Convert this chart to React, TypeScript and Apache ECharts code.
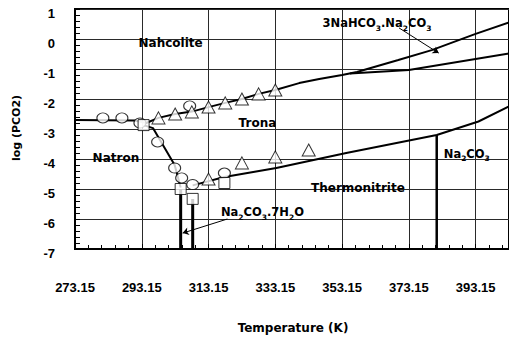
import { useEffect, useRef } from 'react';
import * as echarts from 'echarts';

// Temperatures are kept in kelvin; the x axis runs in kelvin above T0.
const T0 = 273.15;

const xTickLabels = ['273.15', '293.15', '313.15', '333.15', '353.15', '373.15', '393.15'];
const yTickLabels = ['-7', '-6', '-5', '-4', '-3', '-2', '-1', '0', '1'];

// Phase boundaries: [T (K), log PCO2]
const nahcoliteTrona = [
  [273.15, -2.7], [291.0, -2.72], [294.5, -2.8], [298.15, -2.63], [303.15, -2.5],
  [308.15, -2.42], [313.15, -2.27], [318.15, -2.13], [323.15, -2.0], [328.15, -1.83],
  [333.15, -1.7], [340.3, -1.47], [346.3, -1.33], [353.15, -1.2], [357.6, -1.1],
  [370.0, -0.7], [380.0, -0.37], [393.15, 0.17], [403.15, 0.55],
];
const wegscheideriteTrona = [[355.5, -1.15], [373.15, -1.03], [403.15, -0.48]];
const natronTrona = [[293.7, -2.87], [296.5, -2.97], [303.0, -4.2], [304.8, -4.95]];
const tronaThermonitrite = [
  [308.4, -4.88], [317.9, -4.6], [333.45, -4.3], [354.4, -3.8], [381.5, -3.2],
  [394.0, -2.75], [403.15, -2.25],
];
const natronHeptahydrate = [[304.8, -5.0], [304.8, -7]];
const heptahydrateThermonitrite = [[308.4, -5.33], [308.4, -7]];
const thermonitriteCarbonate = [[381.5, -3.2], [381.5, -7]];

// Measured points
const circlePoints = [
  [281.5, -2.63], [287.2, -2.63], [292.6, -2.8], [297.9, -3.43], [303.0, -4.3],
  [305.1, -4.63], [307.5, -2.23], [308.4, -4.85], [317.9, -4.47],
];
const trianglePoints = [
  [298.15, -2.63], [303.15, -2.5], [308.15, -2.43], [313.15, -2.27], [318.15, -2.13],
  [323.15, -2.0], [328.15, -1.83], [333.15, -1.7],
  [313.15, -4.67], [323.15, -4.13], [333.15, -3.93], [343.15, -3.7],
];
const squarePoints = [[293.7, -2.87], [304.8, -5.0], [308.4, -5.33], [317.9, -4.8]];

// Region labels: [T, log PCO2, rich text]
const regionLabels: [number, number, string][] = [
  [301.8, -0.13, '{n|Nahcolite}'],
  [327.8, -2.8, '{n|Trona}'],
  [285.4, -3.97, '{n|Natron}'],
  [357.9, -4.97, '{n|Thermonitrite}'],
  [390.5, -3.83, '{f|Na}{s|2}{f|CO}{s|3}'],
  [329.3, -5.77, '{f|Na}{s|2}{f|CO}{s|3}{f|.7H}{s|2}{f|O}'],
  [363.6, 0.53, '{f|3NaHCO}{s|3}{f|.Na}{s|2}{f|CO}{s|3}'],
];

// Leader arrows: from label to region
const arrows = [
  [[370.2, 0.37], [382.1, -0.47]],
  [[318.8, -6.0], [305.4, -6.47]],
];

const toXY = (pts: number[][]) => pts.map(([t, v]) => [t - T0, v]);

const boundary = (data: number[][], width: number) => ({
  type: 'line',
  data: toXY(data),
  symbol: 'none',
  showSymbol: false,
  silent: true,
  lineStyle: { color: '#000', width },
  z: 3,
});

const markers = (data: number[][], symbol: string, size: number[]) => ({
  type: 'scatter',
  data: toXY(data),
  symbol,
  symbolSize: size,
  silent: true,
  itemStyle: { color: '#fff', borderColor: '#000', borderWidth: 1 },
  z: 5,
});

const BOLD_SANS = 'DejaVu Sans';
const TICK_FONT = 'Liberation Sans';

export default function App() {
  const ref = useRef<HTMLDivElement>(null);

  useEffect(() => {
    if (!ref.current) return;
    const chart = echarts.init(ref.current, undefined, { renderer: 'svg' });

    chart.setOption({
      animation: false,
      backgroundColor: '#fff',
      grid: {
        left: 75,
        top: 9,
        width: 435.5,
        height: 240,
        show: true,
        borderColor: '#000',
        borderWidth: 2,
      },
      xAxis: {
        type: 'value',
        min: 0,
        max: 130,
        interval: 20,
        axisLine: { show: true, onZero: false, lineStyle: { color: '#000', width: 2 } },
        axisTick: { show: true, inside: true, length: 5, lineStyle: { color: '#000' } },
        minorTick: { show: true, splitNumber: 5, length: 4, lineStyle: { color: '#000' } },
        splitLine: { show: true, lineStyle: { color: '#2a2a2a', width: 1 } },
        axisLabel: {
          margin: 32,
          color: '#000',
          fontFamily: TICK_FONT,
          fontWeight: 'bold',
          fontSize: 13,
          showMaxLabel: false,
          formatter: (_v: number, i: number) => xTickLabels[i] ?? '',
        },
      },
      yAxis: {
        type: 'value',
        min: -7,
        max: 1,
        interval: 1,
        axisLine: { show: true, onZero: false, lineStyle: { color: '#000', width: 2 } },
        axisTick: { show: true, inside: true, length: 5, lineStyle: { color: '#000' } },
        minorTick: { show: true, splitNumber: 5, length: 5, lineStyle: { color: '#000' } },
        splitLine: { show: true, lineStyle: { color: '#2a2a2a', width: 1 } },
        axisLabel: {
          margin: 20,
          verticalAlign: 'top',
          lineHeight: 8,
          color: '#000',
          fontFamily: TICK_FONT,
          fontWeight: 'bold',
          fontSize: 13,
          formatter: (_v: number, i: number) => yTickLabels[i] ?? '',
        },
      },
      series: [
        boundary(nahcoliteTrona, 2),
        boundary(wegscheideriteTrona, 2),
        boundary(natronTrona, 2),
        boundary(tronaThermonitrite, 2),
        boundary(natronHeptahydrate, 3),
        boundary(heptahydrateThermonitrite, 3),
        boundary(thermonitriteCarbonate, 2.5),
        {
          type: 'lines',
          coordinateSystem: 'cartesian2d',
          polyline: false,
          silent: true,
          symbol: ['none', 'arrow'],
          symbolSize: 6,
          lineStyle: { color: '#000', width: 1, opacity: 1 },
          data: arrows.map((a) => ({ coords: toXY(a) })),
          z: 4,
        },
        markers(circlePoints, 'circle', [12, 10]),
        markers(trianglePoints, 'triangle', [13, 12]),
        markers(squarePoints, 'rect', [11, 11]),
      ],
    });

    const rich = {
      n: { fontFamily: BOLD_SANS, fontWeight: 'bold', fontSize: 12, lineHeight: 16, fill: '#000' },
      f: { fontFamily: BOLD_SANS, fontWeight: 'bold', fontSize: 11.5, lineHeight: 18, fill: '#000' },
      s: {
        fontFamily: BOLD_SANS,
        fontWeight: 'bold',
        fontSize: 7.5,
        lineHeight: 9,
        verticalAlign: 'bottom',
        fill: '#000',
      },
    };

    const labelElements = regionLabels.map(([t, v, text]) => {
      const [x, y] = chart.convertToPixel({ gridIndex: 0 }, [t - T0, v]) as number[];
      return {
        type: 'text',
        x,
        y,
        z: 10,
        silent: true,
        style: { text, rich, align: 'center', verticalAlign: 'middle' },
      };
    });

    chart.setOption({
      graphic: [
        ...labelElements,
        {
          type: 'text',
          x: 293,
          y: 328,
          silent: true,
          style: {
            text: 'Temperature (K)',
            fontFamily: BOLD_SANS,
            fontWeight: 'bold',
            fontSize: 12,
            fill: '#000',
            align: 'center',
            verticalAlign: 'middle',
          },
        },
        {
          type: 'text',
          x: 16,
          y: 128,
          rotation: Math.PI / 2,
          silent: true,
          style: {
            text: 'log (PCO2)',
            fontFamily: BOLD_SANS,
            fontWeight: 'bold',
            fontSize: 11,
            fill: '#000',
            align: 'center',
            verticalAlign: 'middle',
          },
        },
      ],
    });

    return () => chart.dispose();
  }, []);

  return (
    <div
      ref={ref}
      style={{ position: 'fixed', left: 0, top: 0, width: 509, height: 337, background: '#fff' }}
    />
  );
}
